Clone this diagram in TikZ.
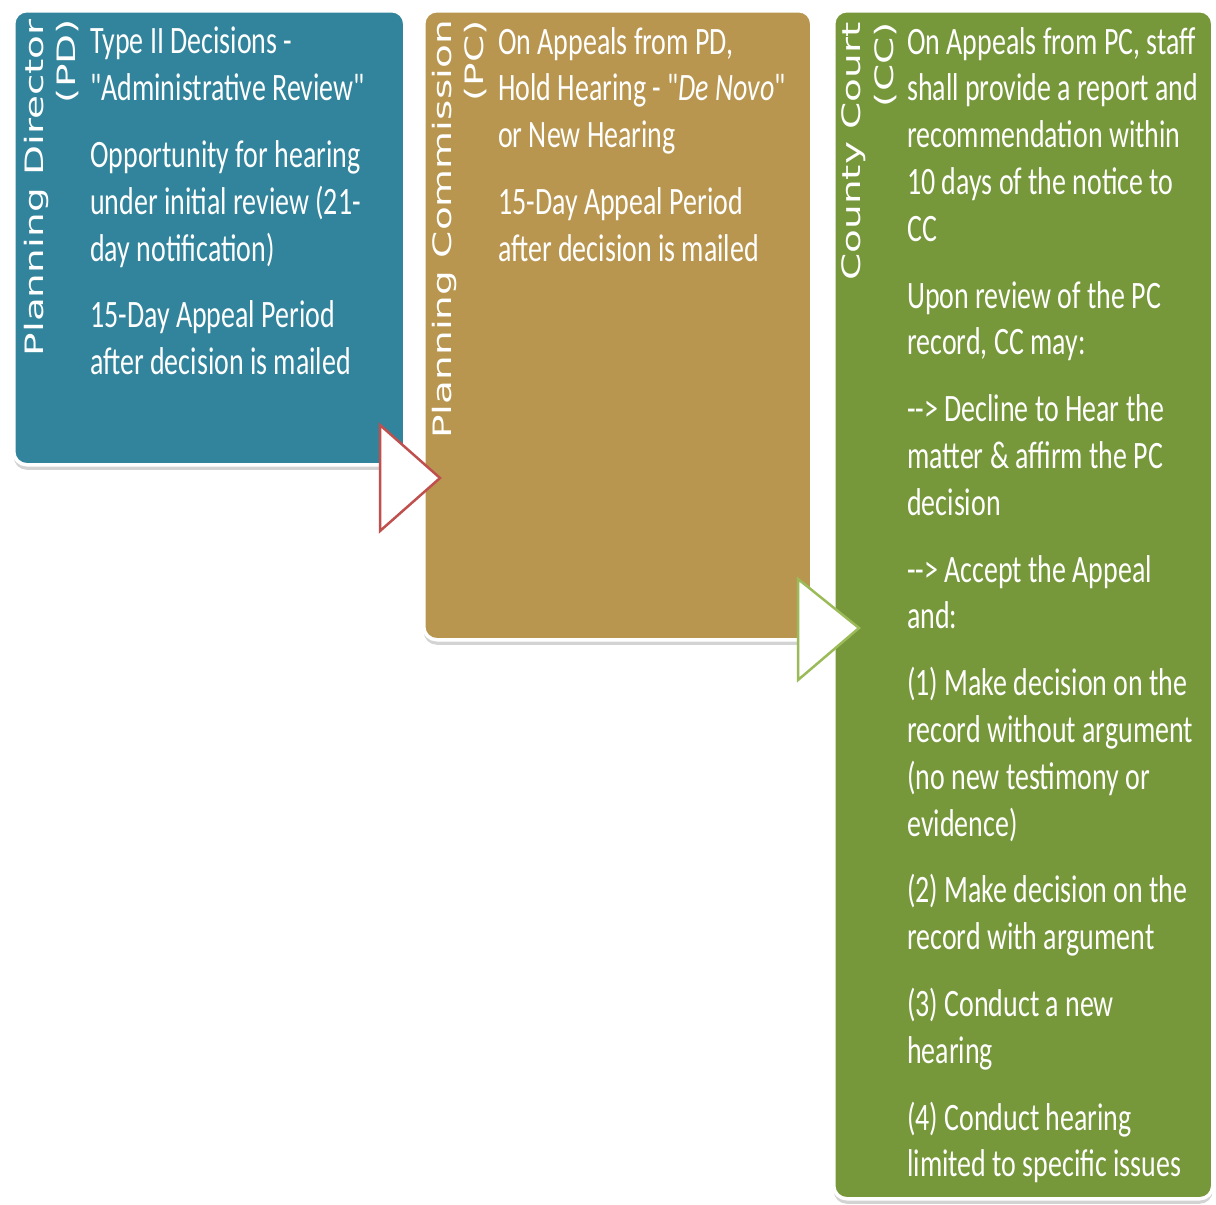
\documentclass[tikz,border=0pt]{standalone}
\usepackage{fontspec}
\setmainfont{Carlito}
\newfontfamily\bodyfont[FakeStretch=0.72]{Carlito}
\newfontfamily\sidefont{DejaVu Sans}
\usetikzlibrary{shadows}
\definecolor{pdblue}{HTML}{31849B}
\definecolor{pctan}{HTML}{B9964F}
\definecolor{ccgreen}{HTML}{76973A}
\definecolor{chevred}{HTML}{C0504D}
\definecolor{chevgreen}{HTML}{9BBB59}
\tikzset{
  stage/.style = {rectangle, draw=white, line width=3.5pt, rounded corners=13pt,
    anchor=north west, inner sep=0pt,
    drop shadow={shadow xshift=0pt, shadow yshift=-5pt, opacity=0.35}},% colored box
  side/.style = {inner sep=0pt, align=right, text=white, xscale=0.65, rotate=90,
    anchor=north east, font=\sidefont\fontsize{39}{50}\selectfont},% rotated title
  body/.style = {inner sep=0pt, align=left, text=white, anchor=north west,
    font=\bodyfont\fontsize{38.8}{46.8}\selectfont},% box text
  chev/.style = {fill=white, line width=2.5pt, line join=miter}% arrow between boxes
}

\begin{document}
\begin{tikzpicture}[x=1pt, y=-1pt]
\useasboundingbox (0,0) rectangle (1216,1205);
% boxes
\node [stage, fill=pdblue, minimum width=391pt, minimum height=454pt] (pd) at (12,9) {};
\node [stage, fill=pctan, minimum width=388pt, minimum height=629pt] (pc) at (422,9) {};
\node [stage, fill=ccgreen, minimum width=379pt, minimum height=1188pt] (cc) at (832,9) {};
% arrows
\coordinate (tipa) at (440,478);
\coordinate (tipb) at (859,628);
\draw [chev, draw=chevred] (tipa) -- ++(-60,-53) -- ++(0,106) -- cycle;
\draw [chev, draw=chevgreen] (tipb) -- ++(-61,-49) -- ++(0,101) -- cycle;
% titles
\node [side] (pdlbl) at ([shift={(12,10)}]pd.north west) {Planning Director\\(PD)};
\node [side] (pclbl) at ([shift={(10,11)}]pc.north west) {Planning Commission\\(PC)};
\node [side] (cclbl) at ([shift={(10,13)}]cc.north west) {County Court\\(CC)};
% texts
\node [body] (pdtxt) at ([shift={(78,18)}]pd.north west) {Type II Decisions -\\
  "Administrative Review"\\[20pt]
  Opportunity for hearing\\
  under initial review (21-\\
  day notification)\\[20pt]
  15-Day Appeal Period\\
  after decision is mailed};
\node [body] (pctxt) at ([shift={(76,18)}]pc.north west) {On Appeals from PD,\\
  Hold Hearing - "\textit{De Novo}"\\
  or New Hearing\\[20pt]
  15-Day Appeal Period\\
  after decision is mailed};
\node [body] (cctxt) at ([shift={(75,18)}]cc.north west) {On Appeals from PC, staff\\
  shall provide a report and\\
  recommendation within\\
  10 days of the notice to\\
  CC\\[20pt]
  Upon review of the PC\\
  record, CC may:\\[20pt]
  -{}-> Decline to Hear the\\
  matter \& affirm the PC\\
  decision\\[20pt]
  -{}-> Accept the Appeal\\
  and:\\[20pt]
  (1) Make decision on the\\
  record without argument\\
  (no new testimony or\\
  evidence)\\[20pt]
  (2) Make decision on the\\
  record with argument\\[20pt]
  (3) Conduct a new\\
  hearing\\[20pt]
  (4) Conduct hearing\\
  limited to specific issues};
\end{tikzpicture}
\end{document}
